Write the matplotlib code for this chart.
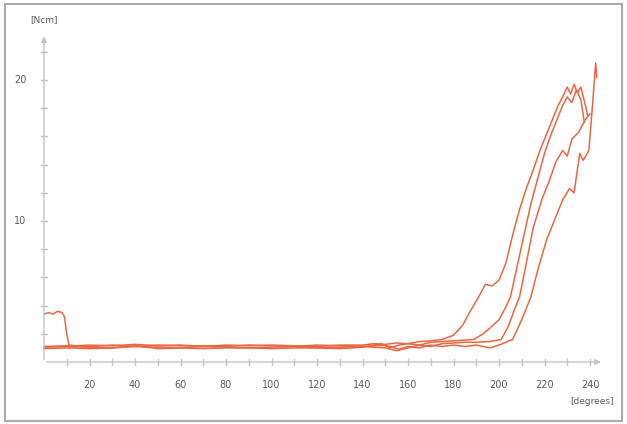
import matplotlib.pyplot as plt
from matplotlib.patches import Rectangle

# torque vs. rotation angle, four runs
deg_a = [0, 2, 4, 6, 8, 9, 10, 11, 14, 20, 30, 40, 50, 60, 70, 80, 90, 100, 110, 120, 130, 140,
         145, 150, 155, 160, 165, 170, 175, 180, 184, 187, 191, 194, 197, 200, 203, 206, 209, 212,
         215, 218, 220, 223, 226, 228, 230, 231.5, 233, 234.5, 236, 237.5, 239]
val_a = [3.4, 3.5, 3.4, 3.6, 3.5, 3.2, 2.0, 1.2, 1.15, 1.2, 1.15, 1.25, 1.15, 1.2, 1.1, 1.2, 1.15,
         1.2, 1.15, 1.1, 1.2, 1.2, 1.3, 1.25, 1.35, 1.3, 1.45, 1.5, 1.6, 1.9, 2.6, 3.5, 4.6, 5.5, 5.4,
         5.8, 7.0, 9.0, 10.8, 12.3, 13.6, 15.0, 15.8, 17.0, 18.2, 18.8, 19.5, 19.0, 19.7, 19.1, 19.5,
         18.5, 17.5]

deg_b = [0, 10, 20, 30, 40, 50, 60, 70, 80, 90, 100, 110, 120, 130, 140, 148, 152, 156, 160, 165,
         170, 175, 180, 185, 189, 193, 196, 200, 203, 205, 208, 211, 214, 217, 220, 223, 225.5, 228,
         230, 232, 234, 236, 237.5]
val_b = [0.95, 1.0, 0.95, 1.0, 1.15, 0.95, 1.0, 0.95, 1.0, 1.0, 0.95, 1.0, 1.0, 0.95, 1.05, 1.3, 1.0,
         1.2, 1.3, 1.2, 1.4, 1.45, 1.5, 1.55, 1.6, 2.0, 2.4, 3.0, 3.9, 4.6, 6.8, 9.0, 11.2, 13.0,
         14.8, 16.2, 17.2, 18.2, 18.8, 18.4, 19.3, 18.6, 17.0]

deg_c = [0, 10, 20, 30, 40, 50, 60, 70, 80, 90, 100, 110, 120, 130, 140, 150, 155, 160, 165, 170,
         175, 180, 185, 190, 196, 201, 204, 207, 209, 212, 215, 219, 222, 225, 228, 230, 232, 235,
         238, 240]
val_c = [1.05, 1.1, 1.05, 1.0, 1.1, 1.05, 1.0, 1.1, 1.05, 1.0, 1.05, 1.1, 1.0, 1.05, 1.1, 1.0, 0.8,
         1.0, 1.2, 1.1, 1.3, 1.35, 1.4, 1.4, 1.45, 1.6, 2.5, 3.8, 4.6, 7.0, 9.5, 11.6, 12.8, 14.2,
         15.0, 14.6, 15.8, 16.3, 17.2, 17.6]

deg_d = [0, 10, 20, 30, 40, 50, 60, 70, 80, 90, 100, 110, 120, 130, 140, 150, 156, 160, 165, 170,
         175, 180, 185, 190, 196, 200, 206, 210, 214, 217, 221, 225, 228, 231, 233, 235.5, 237, 239.5,
         241, 242.5, 243]
val_d = [1.1, 1.15, 1.1, 1.2, 1.1, 1.2, 1.15, 1.15, 1.1, 1.2, 1.15, 1.1, 1.2, 1.15, 1.1, 1.2, 0.9,
         1.1, 1.0, 1.2, 1.1, 1.2, 1.1, 1.2, 1.0, 1.2, 1.6, 3.0, 4.6, 6.5, 8.7, 10.3, 11.5, 12.3, 12.0,
         14.8, 14.3, 15.0, 18.0, 21.2, 20.2]

x_labels = [20, 40, 60, 80, 100, 120, 140, 160, 180, 200, 220, 240]
y_labels = [10, 20]

line_col = '#ea6640'
axis_col = '#bcc3d0'
text_col = '#5a5a5a'

fig = plt.figure(figsize=(6.27, 4.24), dpi=100)
ax = fig.add_axes([0, 0, 1, 1])
ax.set_xlim(-44 / 2.275, (627 - 44) / 2.275)
ax.set_ylim(-(424 - 362) / 14.1, 362 / 14.1)
ax.axis('off')

# frame around the whole picture
fig.patches.append(Rectangle((5 / 627, 3 / 424), 617 / 627, 417 / 424, transform=fig.transFigure,
                             fill=False, edgecolor='#ababab', lw=1.5))

# axes with arrow heads
ax.annotate('', xy=(0, 23.3), xytext=(0, 0),
            arrowprops=dict(arrowstyle='-|>', color=axis_col, lw=1, mutation_scale=8))
ax.annotate('', xy=(246, 0), xytext=(0, 0),
            arrowprops=dict(arrowstyle='-|>', color=axis_col, lw=1, mutation_scale=8))

for t in range(2, 23, 2):
    ax.plot([-1.3, 1.3], [t, t], color=axis_col, lw=1)
for t in range(10, 241, 10):
    ax.plot([t, t], [-0.2, 0.2], color=axis_col, lw=1)

for t in x_labels:
    ax.text(t, -1.6, str(t), ha='center', va='center', fontsize=7, color=text_col)
for t in y_labels:
    ax.text(-10.5, t, str(t), ha='center', va='center', fontsize=7, color=text_col)
ax.text(0, 24.3, '[Ncm]', ha='center', va='center', fontsize=6.5, color=text_col)
ax.text(241, -2.8, '[degrees]', ha='center', va='center', fontsize=6.5, color=text_col)

for d, v in [(deg_a, val_a), (deg_b, val_b), (deg_c, val_c), (deg_d, val_d)]:
    ax.plot(d, v, color=line_col, lw=1.1)

fig.savefig('out.png', dpi=100)
